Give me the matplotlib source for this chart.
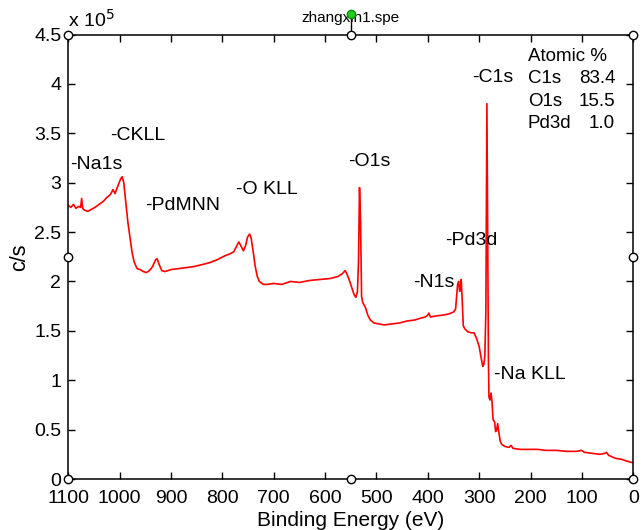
import numpy as np
import matplotlib
matplotlib.use('Agg')
import matplotlib.pyplot as plt

plt.rcParams['font.family'] = ['Liberation Sans', 'DejaVu Sans']

# survey spectrum: binding energy (eV) and c/s (x 1e5)
binding_energy = [1100, 1095, 1090, 1085, 1080, 1076, 1074, 1072, 1068, 1062,
                  1055, 1048, 1040, 1032, 1025, 1018, 1013, 1009, 1004, 998,
                  995, 992, 988, 984, 980, 976, 972, 966, 960, 954,
                  948, 942, 936, 930, 927, 923, 918, 912, 900, 885,
                  870, 856, 840, 825, 810, 795, 785, 778, 772, 768,
                  764, 759, 755, 751, 747, 744, 740, 736, 732, 728,
                  720, 712, 700, 685, 667, 650, 630, 610, 590, 575,
                  566, 561, 557, 552, 547, 543, 540, 537, 535, 533,
                  531, 529, 527, 524, 521, 517, 512, 505, 495, 485,
                  470, 455, 440, 425, 413, 405, 400, 398, 395, 385,
                  370, 360, 350, 346, 344, 342, 340, 338, 336, 335,
                  333, 331, 328, 322, 315, 310, 305, 300, 296, 293,
                  291, 289, 287, 285, 283, 282, 281, 279, 277, 275,
                  273, 270, 268, 266, 264, 262, 259, 256, 250, 242,
                  238, 234, 220, 200, 186, 170, 150, 130, 110, 101,
                  95, 80, 65, 55, 52, 48, 35, 23, 12, 5, 0]
counts_e5 = [2.77, 2.75, 2.78, 2.74, 2.76, 2.75, 2.84, 2.74, 2.72, 2.71,
             2.73, 2.75, 2.78, 2.81, 2.85, 2.88, 2.93, 2.89, 2.96, 3.04,
             3.06, 3.00, 2.80, 2.60, 2.45, 2.30, 2.20, 2.13, 2.12, 2.10,
             2.09, 2.11, 2.15, 2.22, 2.23, 2.17, 2.11, 2.10, 2.12, 2.13,
             2.14, 2.15, 2.17, 2.19, 2.22, 2.26, 2.28, 2.30, 2.36, 2.40,
             2.36, 2.31, 2.36, 2.45, 2.48, 2.44, 2.30, 2.15, 2.05, 2.00,
             1.97, 1.97, 1.98, 1.97, 2.00, 1.99, 2.01, 2.02, 2.03, 2.05,
             2.08, 2.11, 2.07, 2.00, 1.92, 1.86, 1.84, 1.90, 2.20, 2.95,
             2.60, 1.85, 1.79, 1.76, 1.73, 1.66, 1.61, 1.58, 1.57, 1.56,
             1.57, 1.58, 1.60, 1.61, 1.63, 1.64, 1.66, 1.68, 1.64, 1.65,
             1.66, 1.67, 1.69, 1.72, 1.84, 1.97, 2.00, 1.90, 1.95, 2.02,
             1.80, 1.55, 1.52, 1.49, 1.48, 1.48, 1.42, 1.34, 1.22, 1.14,
             1.16, 1.25, 1.70, 3.80, 2.00, 1.20, 0.83, 0.80, 0.87, 0.78,
             0.60, 0.58, 0.48, 0.50, 0.56, 0.48, 0.38, 0.35, 0.33, 0.32,
             0.34, 0.31, 0.30, 0.30, 0.30, 0.29, 0.29, 0.28, 0.28, 0.29,
             0.27, 0.26, 0.25, 0.26, 0.27, 0.24, 0.21, 0.20, 0.18, 0.17, 0.165]

peak_names = ['-Na1s', '-CKLL', '-PdMNN', '-O KLL', '-O1s', '-C1s', '-Pd3d', '-N1s', '-Na KLL']
peak_label_x = [1097, 1019, 951, 774, 555, 314, 367, 428, 272]
peak_label_y = [3.18, 3.48, 2.77, 2.93, 3.21, 4.06, 2.41, 1.99, 1.06]

atomic_names = ['C1s', 'O1s', 'Pd3d']
atomic_pct = ['83.4', '15.5', '1.0']

fig = plt.figure(figsize=(6.43, 5.30), dpi=100)
ax = fig.add_axes([0.1062, 0.0962, 0.8787, 0.8387])

ax.plot(binding_energy, counts_e5, color='red', lw=1.2)

ax.set_xlim(1100, 0)
ax.set_ylim(0, 4.5)
ax.set_xticks(range(1100, -1, -100))
ax.set_yticks(np.arange(0, 4.51, 0.5))
ax.set_yticklabels(['0', '0.5', '1', '1.5', '2', '2.5', '3', '3.5', '4', '4.5'])
ax.tick_params(direction='in', top=True, right=True, length=5, width=1, labelsize=14)
ax.tick_params(axis='x', pad=8)
ax.tick_params(axis='y', pad=5)
for s in ax.spines.values():
    s.set_linewidth(1.1)

ax.set_xlabel('Binding Energy (eV)', fontsize=15, labelpad=3)
ax.set_ylabel('c/s', fontsize=15.5, labelpad=3)

ax.text(0.0, 1.008, 'x 10$^5$', transform=ax.transAxes, fontsize=14, va='bottom', ha='left')
ax.text(0.5, 1.022, 'zhangxin1.spe', transform=ax.transAxes, fontsize=11, va='bottom', ha='center')

for name, x, y in zip(peak_names, peak_label_x, peak_label_y):
    ax.text(x, y, name, fontsize=14, ha='left', va='center')

ax.text(0.813, 0.951, 'Atomic %', transform=ax.transAxes, fontsize=13.5, va='center')
for i, (n, p) in enumerate(zip(atomic_names, atomic_pct)):
    yy = 0.900 - i * 0.050
    ax.text(0.813, yy, n, transform=ax.transAxes, fontsize=13.5, va='center')
    ax.text(0.968, yy, p, transform=ax.transAxes, fontsize=13.5, va='center', ha='right')

# selection handles on the frame
hx = [0, 0.5, 1, 0, 1, 0, 0.5, 1]
hy = [1, 1, 1, 0.5, 0.5, 0, 0, 0]
ax.plot(hx, hy, 'o', transform=ax.transAxes, clip_on=False, ms=6,
        mfc='white', mec='black', mew=1, zorder=5)
ax.plot([0.5, 0.5], [1, 1.047], color='black', lw=1, transform=ax.transAxes, clip_on=False)
ax.plot([0.5], [1.047], 'o', transform=ax.transAxes, clip_on=False, ms=6,
        mfc='#22cc22', mec='#118811', zorder=6)

fig.savefig('out.png', dpi=100)
